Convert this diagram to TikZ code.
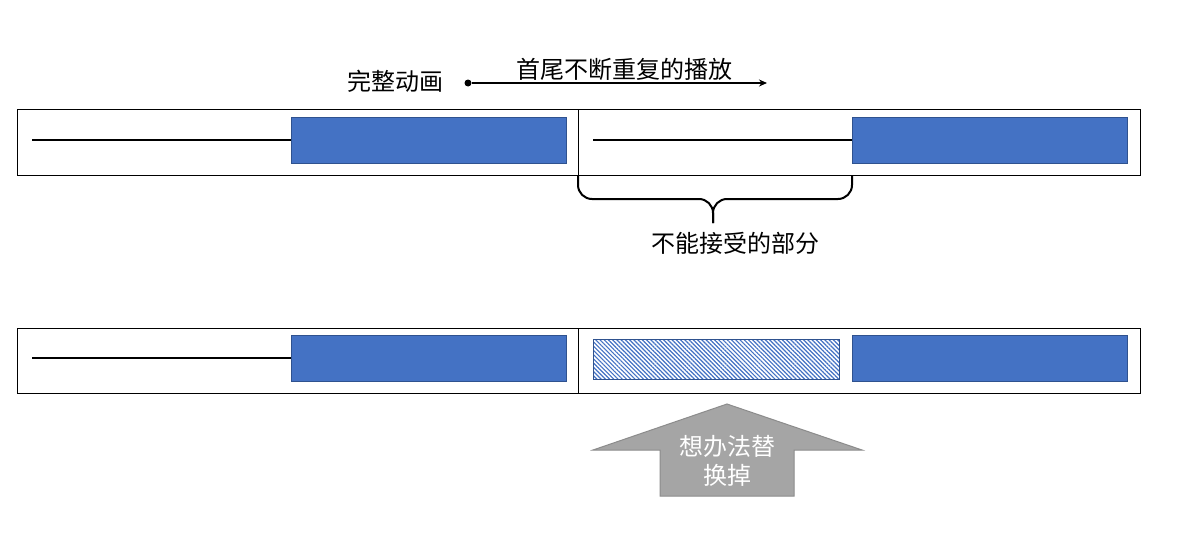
\documentclass[tikz,border=0pt]{standalone}
\usepackage{fontspec}
\setmainfont{Noto Sans CJK SC}
\usetikzlibrary{patterns.meta,arrows.meta}
\definecolor{barblue}{HTML}{4472C4}
\definecolor{bardark}{HTML}{2F528F}
\definecolor{arrowgray}{HTML}{A5A5A5}
\definecolor{arrowedge}{HTML}{8C8C8C}
\tikzset{%
	cell/.style     = {draw, line width=0.5pt, rectangle, inner sep=0pt, outer sep=0pt,
		anchor=north west, minimum height = 33pt},
	bar/.style      = {draw=bardark, line width=0.4pt, fill=barblue, rectangle, inner sep=0pt,
		outer sep=0pt, anchor=north west, minimum width = 137.5pt, minimum height = 23pt}, % Played part
	ghost/.style    = {draw=bardark, line width=0.4pt, rectangle, inner sep=0pt, outer sep=0pt,
		anchor=north west, pattern={Lines[angle=-45, distance=1.5pt, line width=0.6pt]},
		pattern color=barblue, minimum width = 123pt, minimum height = 20pt}, % Replaced part
	lbl/.style      = {font=\fontsize{12pt}{15pt}\selectfont, inner sep=1pt, align=center},
	dot/.style      = {circle, fill, inner sep=0pt, minimum size=3.5pt}
}
\begin{document}
\begin{tikzpicture}[x=0.5pt, y=-0.5pt]
			\fill[white] (0,0) rectangle (1189,546);
			\useasboundingbox (0,0) rectangle (1189,546);
			% top strip
			\node[cell, minimum width=280.5pt] (topL) at (17,109) {};
			\node[cell, minimum width=281pt] (topR) at (578,109) {};
			\node[bar] (barA) at (291,117) {};
			\node[bar] (barB) at (852,117) {};
			\coordinate (lineA) at (32,140);
			\coordinate (lineB) at (593,140);
			\draw[line width=1pt] (lineA) -- (barA.west);
			\draw[line width=1pt] (lineB) -- (barB.west);
			
			\node[lbl] (whole) at (395,81) {完整动画};
			\node[dot] (start) at (468,83) {};
			\coordinate (stop) at (767,83);
			\draw[line width=0.75pt,-{Stealth[length=4pt,width=3.5pt]}] (start) -- (stop);
			\node[lbl] (loop) at (624,69) {首尾不断重复的播放};
			
			% brace
			\coordinate (brL) at (578,176);
			\coordinate (brR) at (852,176);
			\coordinate (brTip) at (713,223);
			\draw[line width=1pt,rounded corners=7pt] (brL) |- (brTip |- 0,199) -- (brTip);
			\draw[line width=1pt,rounded corners=7pt] (brR) |- (brTip |- 0,199) -- (brTip);
			\node[lbl] (bad) at (735,243) {不能接受的部分};
			
			% bottom strip
			\node[cell, minimum width=280.5pt, minimum height=32.5pt] (botL) at (17,328) {};
			\node[cell, minimum width=281pt, minimum height=32.5pt] (botR) at (578,328) {};
			\node[bar] (barC) at (291,335) {};
			\node[ghost] (barD) at (593,339) {};
			\node[bar] (barE) at (852,335) {};
			\coordinate (lineC) at (32,358);
			\draw[line width=1pt] (lineC) -- (barC.west);
			
			% big arrow
			\draw[fill=arrowgray, draw=arrowedge, line width=0.5pt]
				(727,404) -- (862,450) -- (794,450) -- (794,496) -- (660,496) -- (660,450)
				-- (593,450) -- cycle;
			\node[lbl, text=white, font=\fontsize{12pt}{14.5pt}\selectfont] (fix) at (727,461) {想办法替\\换掉};
		\end{tikzpicture}
\end{document}
